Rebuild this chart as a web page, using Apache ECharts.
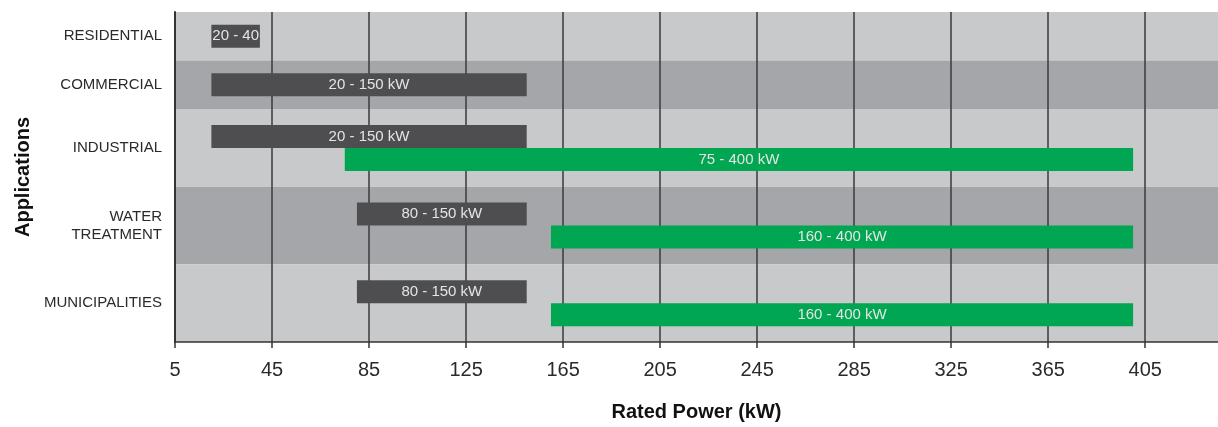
<!DOCTYPE html>
<html>
<head>
<meta charset="utf-8">
<script src="https://cdn.jsdelivr.net/npm/echarts@6/dist/echarts.min.js"></script>
<style>
  html, body { margin: 0; padding: 0; background: #fff; }
  #chart { width: 1218px; height: 427px; }
</style>
</head>
<body>
<div id="chart"></div>
<script>
// application rows (top to bottom)
const categories = ["RESIDENTIAL", "COMMERCIAL", "INDUSTRIAL", "WATER\nTREATMENT", "MUNICIPALITIES"];

// grey ranges
const greyCategory = [0, 1, 2, 3, 4];
const greyLow = [20, 20, 20, 80, 80];
const greyHigh = [40, 150, 150, 150, 150];
const greyLabel = ["20 - 40", "20 - 150 kW", "20 - 150 kW", "80 - 150 kW", "80 - 150 kW"];

// green ranges
const greenCategory = [2, 3, 4];
const greenLow = [75, 160, 160];
const greenHigh = [400, 400, 400];
const greenLabel = ["75 - 400 kW", "160 - 400 kW", "160 - 400 kW"];

// x axis ticks
const xMin = 5;
const xMax = 435;
const xStep = 40;

// layout: relative row heights, bar thickness in px
const rowWeight = [1, 1, 1.6, 1.6, 1.6];
const BAR_H = 23;
const FONT = "'Liberation Sans', Arial, sans-serif";

const rowStart = [];
let acc = 0;
rowWeight.forEach(w => { rowStart.push(acc); acc += w; });
const yTotal = acc;
const rowCenter = rowWeight.map((w, i) => rowStart[i] + w / 2);

const chart = echarts.init(document.getElementById("chart"));

/** bar renderer, lane decides vertical offset when a row holds two bars */
const makeBar = (cats, lows, highs, labels, color, isGreen) => (params, api) => {
    const i = params.dataIndex;
    const cat = cats[i];
    const twoBars = greenCategory.includes(cat) && greyCategory.includes(cat);
    let off = 0;
    if (twoBars) off = isGreen ? BAR_H / 2 : -BAR_H / 2;
    const p0 = api.coord([lows[i], rowCenter[cat]]);
    const p1 = api.coord([highs[i], rowCenter[cat]]);
    return {
        type: "rect",
        shape: { x: p0[0], y: p0[1] + off - BAR_H / 2, width: p1[0] - p0[0], height: BAR_H },
        style: { fill: color },
        textContent: {
            style: { text: labels[i], fill: "#e4e4e4", fontSize: 15, fontFamily: FONT },
        },
        textConfig: { position: "inside" },
    };
};

const option = {
    animation: false,
    grid: { left: 175, right: 0, top: 12, bottom: 83 },
    xAxis: {
        type: "value",
        position: "bottom",
        min: xMin,
        max: xMax,
        interval: xStep,
        z: 1,
        axisLine: { show: true, onZero: false, lineStyle: { color: "#333", width: 1.5 } },
        axisTick: { show: true, length: 6, lineStyle: { color: "#333", width: 1.5 } },
        axisLabel: {
            fontSize: 20,
            color: "#2a2a2a",
            fontFamily: FONT,
            margin: 18,
            showMaxLabel: false,
            formatter: v => ((v - xMin) % xStep === 0 ? String(v) : ""),
        },
        splitLine: { show: true, showMaxLine: false, lineStyle: { color: "#3a3a3c", width: 1.5 } },
        name: "Rated Power (kW)",
        nameLocation: "middle",
        nameGap: 60,
        nameTextStyle: { fontSize: 20, fontWeight: "bold", color: "#111", fontFamily: FONT },
    },
    yAxis: {
        type: "value",
        inverse: true,
        min: 0,
        max: yTotal,
        z: 1,
        axisLine: { show: true, onZero: false, lineStyle: { color: "#333", width: 2 } },
        axisTick: { show: false },
        splitLine: { show: false },
        axisLabel: {
            customValues: rowCenter,
            fontSize: 15,
            color: "#2a2a2a",
            fontFamily: FONT,
            margin: 13,
            align: "right",
            lineHeight: 18,
            padding: [6, 0, 0, 0],
            formatter: v => {
                let best = 0;
                rowCenter.forEach((c, i) => { if (Math.abs(c - v) < Math.abs(rowCenter[best] - v)) best = i; });
                return categories[best];
            },
        },
        name: "Applications",
        nameLocation: "middle",
        nameGap: 142,
        nameRotate: 90,
        nameTextStyle: { fontSize: 20, fontWeight: "bold", color: "#111", fontFamily: FONT },
    },
    series: [
        {
            name: "bands",
            type: "custom",
            z: 0,
            silent: true,
            data: categories.map((c, i) => i),
            renderItem: (params, api) => {
                const i = params.dataIndex;
                const cs = params.coordSys;
                const y0 = api.coord([xMin, rowStart[i]])[1];
                const y1 = api.coord([xMin, rowStart[i] + rowWeight[i]])[1];
                return {
                    type: "rect",
                    shape: { x: cs.x, y: y0, width: cs.width, height: y1 - y0 },
                    style: { fill: i % 2 === 0 ? "#c8c9cb" : "#a5a6a9" },
                };
            },
        },
        {
            name: "grey",
            type: "custom",
            z: 2,
            data: greyCategory.map((c, i) => [greyLow[i], greyHigh[i], c]),
            renderItem: makeBar(greyCategory, greyLow, greyHigh, greyLabel, "#4e4e50", false),
        },
        {
            name: "green",
            type: "custom",
            z: 2,
            data: greenCategory.map((c, i) => [greenLow[i], greenHigh[i], c]),
            renderItem: makeBar(greenCategory, greenLow, greenHigh, greenLabel, "#00a651", true),
        },
    ],
};

chart.setOption(option);
</script>
</body>
</html>
